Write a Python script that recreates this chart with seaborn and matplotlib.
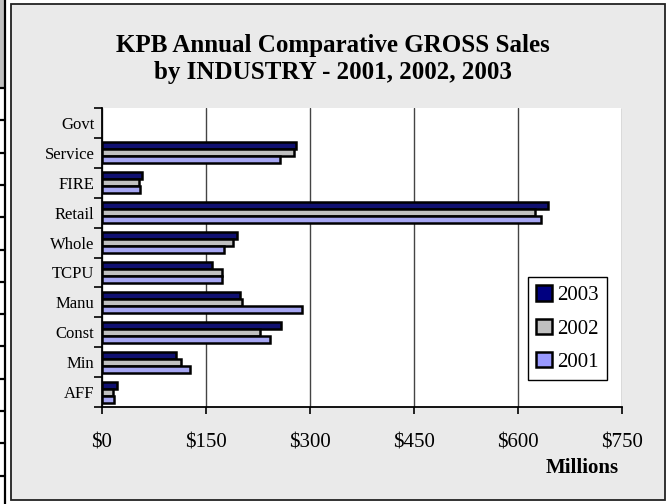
import pandas as pd
import matplotlib
matplotlib.use("Agg")
import matplotlib.pyplot as plt
from matplotlib.patches import Rectangle, Patch
from matplotlib.lines import Line2D
from matplotlib.ticker import FixedLocator, FuncFormatter
import seaborn as sns

# data (millions of dollars)
industries = ['Govt', 'Service', 'FIRE', 'Retail', 'Whole', 'TCPU', 'Manu', 'Const', 'Min', 'AFF']
sales_2003 = [0, 280, 59, 644, 195, 159, 200, 258, 108, 23]
sales_2002 = [0, 278, 54, 624, 189, 173, 202, 229, 114, 17]
sales_2001 = [0, 257, 55, 633, 177, 174, 289, 243, 127, 18]
years = ['2003', '2002', '2001']
year_colors = ['#000080', '#C0C0C0', '#9999FF']
xticks = [0, 150, 300, 450, 600, 750]

df = pd.DataFrame({
    'industry': industries * 3,
    'year': ['2003'] * 10 + ['2002'] * 10 + ['2001'] * 10,
    'sales': sales_2003 + sales_2002 + sales_2001,
})

sns.set_style('white')
plt.rcParams['font.family'] = ['Liberation Serif', 'DejaVu Serif']
plt.rcParams['text.color'] = 'black'
plt.rcParams['xtick.color'] = 'black'
plt.rcParams['ytick.color'] = 'black'

W, H = 668, 504
fig = plt.figure(figsize=(W / 100, H / 100), dpi=100, facecolor='white')

def fx(px):
    return px / W

def fy(py):
    return 1 - py / H

# spreadsheet strip on the far left
fig.add_artist(Rectangle((0, fy(88)), fx(4), 1 - fy(88), transform=fig.transFigure,
                         facecolor='#C0C0C0', edgecolor='none', zorder=-5))
fig.add_artist(Line2D([fx(4.5), fx(4.5)], [0, 1], transform=fig.transFigure, color='black', lw=1.6, zorder=-5))
for k in range(13):
    yy = 88 + 32.3 * k
    fig.add_artist(Line2D([0, fx(5)], [fy(yy), fy(yy)], transform=fig.transFigure, color='black', lw=1.6, zorder=-5))

# chart area
fig.add_artist(Rectangle((fx(11), fy(500)), fx(654), fy(4) - fy(500), transform=fig.transFigure,
                         facecolor='#EAEAEA', edgecolor='#222222', lw=1.3, zorder=-5))

ax = fig.add_axes([fx(101.5), fy(407), fx(520.5), fy(108) - fy(407)])
ax.set_zorder(5)
ax.set_facecolor('white')

sns.barplot(data=df, x='sales', y='industry', hue='year', order=industries, hue_order=years,
            palette=year_colors, width=0.7, edgecolor='black', linewidth=1.8, ax=ax, legend=False)

for p in ax.patches:
    if p.get_width() == 0:
        p.set_visible(False)

ax.set_xlim(0, 750)
ax.set_ylim(len(industries) - 0.5, -0.5)
ax.set_xticks(xticks)
ax.xaxis.set_major_formatter(FuncFormatter(lambda v, pos: '$%d' % v))
ax.grid(axis='x', color='#444444', lw=1)
ax.set_axisbelow(True)
ax.tick_params(axis='x', length=5, width=1.2, direction='out', pad=14, labelsize=15, bottom=True)
ax.tick_params(axis='y', which='major', length=0, pad=5, labelsize=12)
ax.yaxis.set_minor_locator(FixedLocator([i - 0.5 for i in range(len(industries) + 1)]))
ax.tick_params(axis='y', which='minor', length=6, width=1.2, direction='out', left=True)
ax.set_xlabel('')
ax.set_ylabel('')
for s in ['top', 'right']:
    ax.spines[s].set_visible(False)
for s in ['left', 'bottom']:
    ax.spines[s].set_color('black')
    ax.spines[s].set_linewidth(1.3)

fig.text(fx(333), fy(59), 'KPB Annual Comparative GROSS Sales\nby INDUSTRY - 2001, 2002, 2003',
         ha='center', va='center', fontsize=18, fontweight='bold', linespacing=1.25)
fig.text(fx(582), fy(468), 'Millions', ha='center', va='center', fontsize=15, fontweight='bold')

handles = [Patch(facecolor=c, edgecolor='black', lw=1.8) for c in year_colors]
leg = ax.legend(handles, years, loc='upper left', bbox_to_anchor=(fx(528), fy(277)),
                bbox_transform=fig.transFigure, frameon=True, fancybox=False, framealpha=1,
                edgecolor='black', prop={'family': 'Liberation Serif', 'size': 15},
                handlelength=0.75, handleheight=0.75,
                handletextpad=0.25, labelspacing=0.65, borderpad=0.4, borderaxespad=0)
leg.get_frame().set_linewidth(1)

fig.savefig('out.png', dpi=100, facecolor=fig.get_facecolor())
